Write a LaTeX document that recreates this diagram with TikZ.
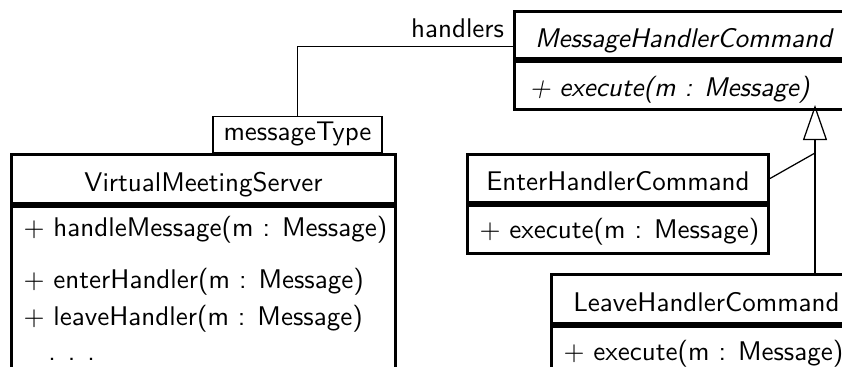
\documentclass[tikz,border=0pt]{standalone}
\usepackage{tikz}
\usetikzlibrary{arrows.meta}

\newcommand{\umlfont}{\sffamily\fontsize{10.8}{13}\selectfont}

\tikzset{
  clsname/.style={draw, very thick, inner sep=0pt, anchor=north west,
    text height=9.6pt, text depth=0pt, font=\umlfont},
  clsops/.style={draw, very thick, inner sep=0pt, anchor=north west},
  op/.style={anchor=base west, inner sep=0pt, font=\umlfont},
  qualbox/.style={draw, line width=.5pt, inner sep=0pt, font=\umlfont},
  assoc/.style={line width=.5pt},
  gen/.style={line width=.5pt, -{Triangle[open, length=14pt, width=9.6pt]}}
}

\begin{document}
\begin{tikzpicture}[x=0.4pt, y=-0.4pt]
	\useasboundingbox (0,0) rectangle (842,367);
	% server with its qualifier
	\node[clsname, minimum width=153.6pt, minimum height=19.6pt] (vms) at (10,153) {VirtualMeetingServer};
	\node[clsops, minimum width=153.6pt, minimum height=100pt] (vmsops) at (vms.south west) {};
	\node[op] (vmsop1) at ([shift={(13,31)}]vmsops.north west) {+ handleMessage(m : Message)};
	\node[op] (vmsop2) at ([shift={(13,83)}]vmsops.north west) {+ enterHandler(m : Message)};
	\node[op] (vmsop3) at ([shift={(13,120)}]vmsops.north west) {+ leaveHandler(m : Message)};
	\node[op] (vmsdots) at ([shift={(38,155)}]vmsops.north west) {. . .};
	\node[qualbox, minimum width=67.6pt, minimum height=14.4pt, anchor=south] (qual) at (297.5,153) {messageType};
	% command classes
	\node[clsname, font=\umlfont\itshape, minimum width=135.2pt, minimum height=18.8pt] (mhc) at (513,10) {MessageHandlerCommand};
	\node[clsops, minimum width=135.2pt, minimum height=19.2pt] (mhcops) at (mhc.south west) {};
	\node[op, font=\umlfont\itshape] (mhcop) at ([shift={(16,36)}]mhcops.north west) {+ execute(m : Message)};
	\node[clsname, minimum width=120.4pt, minimum height=19.2pt] (ehc) at (466,153) {EnterHandlerCommand};
	\node[clsops, minimum width=120.4pt, minimum height=19.2pt] (ehcops) at (ehc.south west) {};
	\node[op] (ehcop) at ([shift={(13,34)}]ehcops.north west) {+ execute(m : Message)};
	\node[clsname, minimum width=124pt, minimum height=19.6pt] (lhc) at (550,273) {LeaveHandlerCommand};
	\node[clsops, minimum width=124pt, minimum height=100pt] (lhcops) at (lhc.south west) {};
	\node[op] (lhcop) at ([shift={(13,35)}]lhcops.north west) {+ execute(m : Message)};
	% connectors
	\coordinate (tip) at (815,105);
	\draw[assoc] ([yshift=-4.6pt]mhc.west) node[above left, font=\umlfont] (hlabel) {handlers} -| (qual.north);
	\draw[gen] (lhc.north -| tip) -- (tip);
	\draw[assoc] (ehc.east) -- (ehc.north -| tip);
\end{tikzpicture}
\end{document}
